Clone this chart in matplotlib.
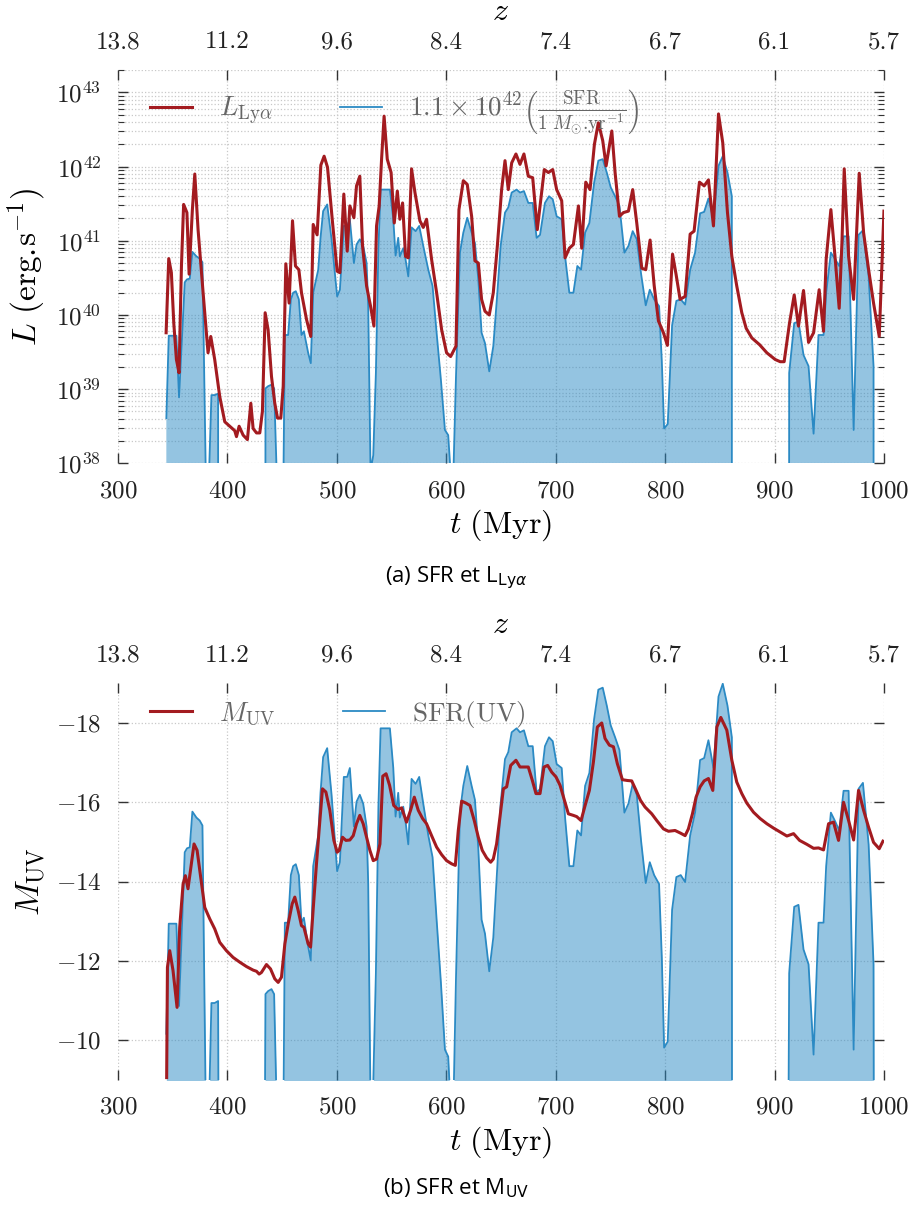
import numpy as np
import matplotlib
matplotlib.use('Agg')
import matplotlib.pyplot as plt
from matplotlib.ticker import LogLocator, NullFormatter, MultipleLocator

plt.rcParams['font.family'] = 'cmr10'
plt.rcParams['mathtext.fontset'] = 'cm'
plt.rcParams['axes.formatter.use_mathtext'] = True

# axis ticks (t in Myr) and the matching redshift labels
t_ticks = [300, 400, 500, 600, 700, 800, 900, 1000]
z_labels = ['13.8', '11.2', '9.6', '8.4', '7.4', '6.7', '6.1', '5.7']

# Lyman-alpha luminosity, log10(L / erg s^-1)
t_lya = [344, 346.4, 348.8, 351, 353.4, 355.8, 358, 360, 363, 365, 368, 370.2, 373.2, 377.8,
         382.3, 384.8, 388.4, 393, 397.6, 402.2, 406.7, 408.3, 410.7, 414.4, 418.3, 421.4,
         423.5, 426.6, 429.6, 432, 434.5, 437.2, 440.3, 443.3, 445.8, 448.8, 451, 453.4,
         456.4, 459.5, 462.2, 465.3, 467.7, 472.3, 476.2, 478.4, 482, 485.4, 488.4, 491.5,
         495.8, 500.3, 502.8, 506.4, 509.5, 511.9, 515.6, 518, 521, 523.5, 527.2, 530.8,
         533.9, 536.3, 538.7, 540.9, 543.2, 546.1, 549.6, 552.5, 555.3, 557.6, 560.1, 562.8,
         565.3, 568.3, 571.4, 575.9, 579, 582, 586.6, 591.2, 595.8, 600.3, 604, 608.9, 611.6,
         615.6, 619.2, 623.2, 626.2, 629.3, 632.3, 635.4, 639.3, 643, 646.7, 650.6, 653.7,
         656.7, 659.8, 663.7, 667.4, 671, 675, 679, 683.2, 685.7, 689.6, 693.3, 697.3, 700.9,
         705.5, 708.6, 712.5, 716.2, 720.8, 723.8, 727.5, 731.4, 735.4, 739, 743, 746.1,
         751.3, 754.3, 758.3, 761.9, 766.5, 770.4, 774.1, 778.7, 782.3, 786.3, 790, 793.9,
         798.5, 802.1, 806.8, 810, 813.7, 818.3, 822.9, 826.5, 831.4, 835.7, 839.6, 844.2,
         848.8, 852.7, 857, 861, 865.5, 870.1, 874.1, 879.3, 886.3, 893, 900.6, 905.2, 908.8,
         913.7, 918, 921.9, 926.5, 931.1, 935.7, 940.8, 944.8, 947.2, 951.5, 955.5, 959.1,
         961.6, 963.7, 967.7, 972.3, 977.4, 981.4, 986, 990.5, 995.7, 1000]
lya = [39.76, 40.76, 40.57, 39.89, 39.40, 39.22, 40.66, 41.49, 41.38, 40.55, 41.42, 41.90, 41.15, 40.30,
       39.49, 39.71, 39.40, 38.90, 38.56, 38.50, 38.44, 38.36, 38.50, 38.38, 38.32, 38.81,
       38.47, 38.41, 38.41, 38.70, 40.03, 39.80, 39.17, 38.81, 38.61, 38.61, 39.04, 40.69,
       40.16, 41.27, 40.66, 40.61, 40.30, 39.94, 39.71, 41.22, 41.08, 42.02, 42.14, 41.99,
       41.29, 40.59, 40.57, 41.63, 40.86, 41.47, 41.31, 41.74, 41.87, 40.93, 40.39, 40.12,
       39.85, 41.20, 41.47, 42.10, 42.68, 42.10, 41.92, 41.24, 41.67, 41.29, 41.51, 40.79,
       40.77, 41.97, 41.65, 41.27, 41.18, 41.29, 40.75, 40.30, 39.80, 39.49, 39.44, 39.58, 41.42,
       41.81, 41.76, 41.33, 40.73, 40.70, 40.21, 40.05, 40.00, 40.30, 40.93, 41.69, 42.08,
       41.69, 42.05, 42.17, 42.03, 42.17, 41.87, 41.85, 41.15, 41.47, 41.96, 41.92, 41.96, 41.69,
       41.54, 40.77, 40.90, 40.95, 41.47, 40.90, 41.79, 41.69, 42.30, 42.59, 42.35, 42.01,
       42.48, 41.92, 41.33, 41.38, 41.40, 41.69, 41.24, 40.63, 40.61, 41.01, 40.40, 39.92,
       39.76, 39.59, 40.82, 40.55, 40.21, 40.25, 41.09, 41.13, 41.79, 41.74, 41.82, 41.20,
       42.71, 42.32, 41.38, 40.79, 40.39, 40.03, 39.82, 39.69, 39.60, 39.49, 39.40, 39.37, 39.37,
       39.89, 40.27, 39.85, 40.33, 39.63, 39.76, 40.34, 39.78, 40.75, 41.42, 40.75, 40.09,
       40.97, 41.97, 40.79, 40.21, 41.91, 41.11, 40.61, 40.16, 39.71, 41.40]

# SFR expressed as log10(1.1e42 * SFR); -inf = no star formation
t_sfr = [344.2, 346.4, 353.4, 355.8, 359, 361, 363.1, 365.6, 368, 371.7, 374.7, 377.2, 380.2, 383.3,
         385.4, 388.4, 391.5, 393.6, 432, 434.8, 437.2, 440.3, 442.7, 445.8, 451, 452.5, 455.5,
         458, 460.1, 462.5, 465.3, 467.7, 469.9, 473.8, 476.2, 478.4, 483, 485.1, 487.5, 491.2,
         495.2, 498.2, 500.3, 502.8, 506.4, 509.5, 511.9, 515.6, 518, 521, 524.1, 527.2, 528.7,
         530.8, 533.3, 535.7, 538, 540, 548.5, 551.6, 553.7, 556.1, 557.6, 560.7, 562.8, 565.3,
         568.3, 572, 575.3, 579, 583.6, 587.5, 591.2, 595.1, 598.8, 601.8, 604.3, 606.4, 608.9,
         612.5, 615.6, 619.2, 623.2, 626.2, 629.3, 632.3, 635.4, 639.3, 643, 646.7, 649.7, 653.7,
         656.7, 659.8, 664.3, 667.4, 671, 675, 679, 682.6, 685.7, 690.2, 693.9, 697.3, 700.9,
         705.5, 708.6, 712.5, 716.2, 719.8, 723.2, 726.9, 730.8, 735.1, 739, 743, 746.7, 750.3,
         754.3, 758.3, 762.8, 766.5, 770.4, 774.1, 778.1, 782.3, 786, 790, 794.5, 797, 799.1,
         802.4, 806.4, 810.3, 814.3, 818.3, 822.9, 827.4, 832, 835.7, 839.6, 844.2, 848.8, 852.7,
         857, 861, 861.3, 910.4, 913.4, 918, 921.9, 926.5, 931.1, 935.7, 940.2, 944.8, 947.2,
         951.5, 955.5, 959.1, 963.1, 967.7, 972.3, 976.8, 980.8, 986, 990.5, 991.5, 1000]
sfr_l = [38.61, 39.72, 39.72, 38.89, 39.85, 40.44, 40.48, 40.49, 40.85, 40.79, 40.76, 40.71, 37.9, 37.9,
         38.92, 38.92, 38.94, -np.inf, -np.inf, 39.01, 39.04, 39.06, 39.01, 37.5, 37.5, 39.73, 39.73,
         40.21, 40.30, 40.32, 40.21, 39.73, 39.78, 39.49, 39.35, 40.30, 40.61, 41.04, 41.40, 41.49,
         41.02, 40.57, 40.25, 40.34, 41.20, 41.20, 41.29, 40.70, 40.95, 41.02, 40.93, 40.70, 40.12,
         37.9, 38.11, 39.22, 40.9, 41.69, 41.69, 41.29, 40.80, 41.04, 40.79, 40.90, 40.75, 40.52,
         41.18, 41.13, 41.20, 40.93, 40.61, 40.39, 39.76, 39.13, 38.45, 38.38, 37.8, 37.8, 39.17,
         40.84, 41.11, 41.31, 41.11, 40.97, 40.48, 39.76, 39.62, 39.24, 39.58, 40.30, 40.93, 41.38,
         41.45, 41.65, 41.69, 41.65, 41.67, 41.51, 41.51, 41.04, 41.08, 41.51, 41.60, 41.56, 41.33,
         41.29, 40.79, 40.30, 40.30, 40.66, 40.61, 41.11, 41.24, 41.78, 42.08, 42.10, 41.92, 41.72,
         41.60, 41.47, 40.84, 40.93, 41.13, 41.02, 40.55, 40.13, 40.34, 40.21, 40.12, 39.38, 38.47,
         38.53, 39.86, 40.19, 40.21, 40.14, 40.61, 40.84, 41.37, 41.39, 41.57, 41.29, 42.01, 42.14,
         41.92, 41.60, -np.inf, -np.inf, 39.22, 39.89, 39.91, 39.46, 39.31, 38.40, 39.73, 39.73, 40.30,
         40.84, 40.75, 40.66, 41.06, 41.06, 38.45, 41.08, 41.14, 40.52, 39.31, -np.inf, -np.inf]

# UV magnitude
t_muv = [344.5, 345.2, 347.3, 350.3, 354, 356.4, 359.5, 361.6, 364, 367.1, 369.5, 372.3, 375.6, 379.3,
         383.9, 388.4, 393, 399.1, 405.2, 411.3, 417.4, 423.5, 426.6, 429, 431.1, 435.7, 439.4,
         443.3, 446.4, 449.4, 452.5, 455.5, 459.2, 461.6, 464.7, 467.7, 469.9, 473.8, 476, 478.4,
         481.4, 484.5, 486.9, 490, 493.6, 497.3, 500.3, 502.2, 505.2, 508.3, 511.9, 515, 518, 521,
         524.1, 527.2, 530.2, 533.3, 536.3, 539.4, 542, 545, 548.2, 552, 556, 559.2, 563.7, 567.4,
         570.8, 574.4, 578.4, 582, 586.6, 591.2, 595.8, 600.3, 604.9, 608.3, 611, 614.1, 618,
         621.7, 625.6, 629.3, 632.9, 636.9, 640.6, 643, 646, 649.1, 652.2, 655.2, 658.9, 663.7,
         667.4, 671, 675, 678.7, 682, 685.7, 689.3, 692.7, 696.4, 700.3, 704, 707.6, 711.6, 716.2,
         719.2, 723.2, 726.9, 730.8, 734.5, 738.1, 742.1, 745.1, 749.1, 752.8, 756.4, 761, 765.6,
         769.5, 773.5, 777.5, 781.7, 787.8, 792.4, 798.5, 803.1, 809.1, 814.3, 818.3, 821.3, 825,
         828.3, 832, 835.7, 839.6, 843.6, 847.3, 850.9, 856.4, 861, 865.5, 870.1, 874.7, 880.8,
         886.9, 893, 899.1, 905.2, 911.3, 917.4, 922.9, 929.6, 935.7, 940.2, 944.8, 949.4, 953.9,
         958.5, 963.1, 967.7, 972.3, 976.8, 981.4, 986, 990.5, 995.7, 999.1]
muv = [-9.06, -11.84, -12.26, -11.76, -10.83, -12.85, -13.94, -14.15, -13.82, -14.45, -14.95, -14.79,
       -14.11, -13.35, -13.06, -12.81, -12.47, -12.26, -12.09, -11.97, -11.86, -11.77, -11.74, -11.67,
       -11.71, -11.91, -11.80, -11.55, -11.46, -11.59, -12.43, -12.93, -13.44, -13.61, -13.27, -12.89,
       -12.85, -12.43, -12.35, -13.31, -14.45, -15.54, -16.34, -16.26, -15.80, -15.04, -14.74, -14.79,
       -15.12, -15.04, -15.05, -15.16, -15.46, -15.67, -15.46, -15.12, -14.79, -14.53, -14.57, -14.95,
       -16.66, -16.72, -16.43, -15.92, -15.82, -15.86, -15.50, -15.80, -16.13, -15.80, -15.59, -15.46,
       -15.16, -14.87, -14.68, -14.53, -14.45, -14.41, -15.29, -16.03, -15.98, -15.92, -15.54, -15.12,
       -14.79, -14.60, -14.49, -14.57, -14.95, -15.63, -16.34, -16.39, -16.93, -17.06, -16.89, -16.89,
       -16.89, -16.55, -16.22, -16.22, -16.89, -16.93, -16.76, -16.64, -16.43, -16.09, -15.71, -15.67,
       -15.64, -15.54, -15.92, -16.30, -17.02, -17.90, -18.00, -17.61, -17.44, -17.40, -16.97, -16.57,
       -16.55, -16.54, -16.30, -16.05, -15.88, -15.71, -15.54, -15.33, -15.27, -15.29, -15.22, -15.16,
       -15.33, -15.71, -16.13, -16.39, -16.54, -16.60, -16.30, -17.90, -18.14, -17.82, -17.06, -16.51,
       -16.22, -15.98, -15.75, -15.59, -15.46, -15.35, -15.25, -15.15, -15.21, -15.04, -14.94, -14.84,
       -14.85, -14.80, -15.46, -15.50, -15.04, -16.00, -15.54, -15.05, -16.30, -15.80, -15.37, -14.99,
       -14.83, -15.02]

red = '#a31b20'
blue = '#2b8ac4'

t_sfr = np.array(t_sfr)
sfr_l = np.array(sfr_l)
has_sf = np.isfinite(sfr_l)
log_safe = np.where(has_sf, sfr_l, 0.0)
# same SFR shown as a luminosity (top) and as a UV magnitude (bottom)
l_sfr = np.where(has_sf, 10.0 ** log_safe, 1e-30)
m_sfr = np.where(has_sf, 86.36 - 2.5 * log_safe, 5.0)

fig = plt.figure(figsize=(9.11, 12.06), dpi=100)
ax1 = fig.add_axes([0.1295, 0.6158, 0.8408, 0.3261])
ax2 = fig.add_axes([0.1295, 0.1045, 0.8408, 0.3289])


def style(ax):
    for s in ax.spines.values():
        s.set_visible(False)
    ax.set_xlim(300, 1000)
    ax.set_xticks(t_ticks)
    ax.tick_params(which='both', direction='in', top=False, right=True, colors='#333333',
                   labelsize=18, pad=12, labelcolor='#222222')
    ax.tick_params(which='major', length=7, width=1)
    ax.tick_params(which='minor', length=4, width=0.8)
    ax.set_xlabel('$t\\ (\\mathrm{Myr})$', fontsize=23, labelpad=4)
    axz = ax.twiny()
    for s in axz.spines.values():
        s.set_visible(False)
    axz.set_xlim(300, 1000)
    axz.set_xticks(t_ticks)
    axz.set_xticklabels(z_labels)
    axz.tick_params(direction='in', length=7, width=1, colors='#333333', labelsize=18,
                    pad=12, labelcolor='#222222')
    axz.set_xlabel('$z$', fontsize=23, labelpad=8)
    return axz


leg_kw = dict(loc='upper left', ncol=2, frameon=False, fontsize=19.5, handlelength=1.55,
              handletextpad=1.0, columnspacing=2.5, labelcolor='#666666')

# top panel: Lya and SFR luminosity
ax1.set_yscale('log')
ax1.fill_between(t_sfr, 1e-30, l_sfr, color=blue, alpha=0.5, lw=0)
hb, = ax1.plot(t_sfr, l_sfr, color=blue, lw=1.3)
hr, = ax1.plot(t_lya, 10.0 ** np.array(lya), color=red, lw=2.2)
ax1.set_ylim(1e38, 2e43)
ax1.yaxis.set_major_locator(LogLocator(base=10, numticks=10))
ax1.yaxis.set_minor_locator(LogLocator(base=10, subs=np.arange(2, 10), numticks=20))
ax1.yaxis.set_minor_formatter(NullFormatter())
ax1.grid(True, which='both', ls=':', color='#c8c8c8', lw=0.9)
ax1.set_axisbelow(True)
ax1.set_ylabel('$L\\ (\\mathrm{erg}.\\!\\mathrm{s}^{-1})$', fontsize=24, labelpad=6)
style(ax1)
ax1.legend([hr, hb], ['$L_{\\mathrm{Ly\\alpha}}$',
                      '$1.1 \\times 10^{42} \\left(\\frac{\\mathrm{SFR}}{1\\ M_{\\odot}.\\!\\mathrm{yr}^{-1}}\\right)$'],
           bbox_to_anchor=(0.0096, 1.018), **leg_kw)

# bottom panel: UV magnitude and SFR(UV)
ax2.fill_between(t_sfr, 5.0, m_sfr, color=blue, alpha=0.5, lw=0)
hb2, = ax2.plot(t_sfr, m_sfr, color=blue, lw=1.3)
hr2, = ax2.plot(t_muv, muv, color=red, lw=2.2)
ax2.set_ylim(-9, -19)
ax2.yaxis.set_major_locator(MultipleLocator(2))
ax2.grid(True, which='major', ls=':', color='#c8c8c8', lw=0.9)
ax2.set_axisbelow(True)
ax2.set_ylabel('$M_{\\mathrm{UV}}$', fontsize=24, labelpad=6)
style(ax2)
ax2.legend([hr2, hb2], ['$M_{\\mathrm{UV}}$', '$\\mathrm{SFR(UV)}$'],
           bbox_to_anchor=(0.0096, 1.023), **leg_kw)

fig.text(0.501, 1 - 578 / 1206, '(a) SFR et L$_{\\mathrm{Ly}\\alpha}$', ha='center', va='center',
         family='Open Sans', fontsize=16, math_fontfamily='dejavusans')
fig.text(0.501, 1 - 1188 / 1206, '(b) SFR et M$_{\\mathrm{UV}}$', ha='center', va='center',
         family='Open Sans', fontsize=16, math_fontfamily='dejavusans')

fig.savefig('out.png', dpi=100)
